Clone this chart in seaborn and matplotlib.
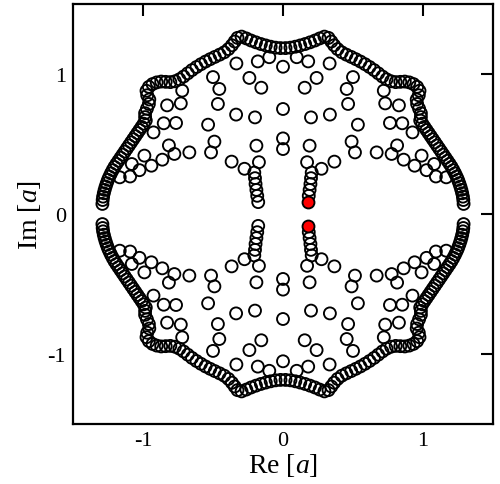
import matplotlib
matplotlib.use("Agg")
import matplotlib.pyplot as plt
import seaborn as sns
import pandas as pd

sns.set_theme(style="white")
plt.rcParams["font.family"] = ["Liberation Serif", "DejaVu Serif"]
plt.rcParams["mathtext.fontset"] = "custom"
plt.rcParams["mathtext.it"] = "Liberation Serif:italic"
plt.rcParams["mathtext.rm"] = "Liberation Serif"
plt.rcParams["axes.unicode_minus"] = False

# ---------------- data (zeros in the complex a-plane) ----------------
# quadrant I (Re>0, Im>0): outer rim then interior points
q1_x = [0.018, 0.053, 0.088, 0.123, 0.158, 0.193, 0.228, 0.262, 0.296,
        0.325, 0.345, 0.365, 0.39, 0.42, 0.453, 0.487, 0.52, 0.553, 0.586, 0.618, 0.65, 0.68,
        0.71, 0.74, 0.772, 0.805, 0.838, 0.87, 0.902, 0.932,
        0.958, 0.975, 0.97, 0.955, 0.958, 0.972, 0.985, 0.985,
        0.98, 0.995, 1.01, 1.025, 1.04, 1.055, 1.07, 1.085, 1.1, 1.115, 1.13, 1.145, 1.16, 1.175,
        1.19, 1.204, 1.217, 1.229, 1.24, 1.25, 1.259, 1.267, 1.274, 1.28, 1.285, 1.288, 1.29,
        0.098, 0.18, 0.333, 0.50, 0.24, 0.155, 0.455, 0.465, 0.335, 0.2, 0.535, 0.72, 0.73,
        0.828, 0.764, 0.852, 0.925, 0.49, 0.514, 0.669, 0.776, 0.815, 0.862, 0.94, 0.99, 1.025,
        1.08, 1.092, 1.166, 0.367, 0.275, 0.172, 0.19, 0.184, 0.19, 0.196, 0.2, 0.205]
q1_y = [1.185, 1.188, 1.195, 1.204, 1.214, 1.226, 1.239, 1.254, 1.267,
        1.258, 1.232, 1.205, 1.178, 1.155, 1.138, 1.122, 1.106, 1.089, 1.07, 1.05, 1.028, 1.005,
        0.982, 0.962, 0.948, 0.942, 0.944, 0.946, 0.94, 0.928,
        0.908, 0.88, 0.848, 0.818, 0.786, 0.752, 0.72, 0.692,
        0.668, 0.645, 0.622, 0.6, 0.578, 0.556, 0.534, 0.512, 0.49, 0.468, 0.446, 0.424, 0.402, 0.38,
        0.358, 0.336, 0.313, 0.29, 0.267, 0.244, 0.22, 0.196, 0.172, 0.148, 0.124, 0.1, 0.072,
        1.12, 1.09, 1.075, 0.978, 0.972, 0.902, 0.893, 0.786, 0.71, 0.69, 0.638, 0.881, 0.79,
        0.776, 0.65, 0.648, 0.583, 0.517, 0.44, 0.44, 0.429, 0.49, 0.388, 0.345, 0.417, 0.313,
        0.357, 0.268, 0.262, 0.374, 0.323, 0.37, 0.488, 0.13, 0.172, 0.214, 0.256, 0.296]

# quadrant II (Re<0, Im>0)
q2_x = [-0.018, -0.053, -0.088, -0.123, -0.158, -0.193, -0.228, -0.262, -0.296,
        -0.325, -0.345, -0.365, -0.39, -0.42, -0.453, -0.487, -0.52, -0.553, -0.586, -0.618, -0.65, -0.68,
        -0.71, -0.74, -0.772, -0.805, -0.838, -0.87, -0.902, -0.932,
        -0.958, -0.975, -0.97, -0.955, -0.958, -0.972, -0.985, -0.985,
        -0.98, -0.995, -1.01, -1.025, -1.04, -1.055, -1.07, -1.085, -1.1, -1.115, -1.13, -1.145, -1.16, -1.175,
        -1.19, -1.204, -1.217, -1.229, -1.24, -1.25, -1.259, -1.267, -1.274, -1.28, -1.285, -1.288, -1.29,
        -0.098, -0.18, -0.333, -0.50, -0.24, -0.155, -0.455, -0.465, -0.335, -0.2, -0.535, -0.72, -0.73,
        -0.828, -0.764, -0.852, -0.925, -0.49, -0.514, -0.669, -0.776, -0.815, -0.862, -0.94, -0.99, -1.025,
        -1.08, -1.092, -1.166, -0.367, -0.275, -0.172, -0.19, -0.184, -0.19, -0.196, -0.2, -0.205, -0.177]
q2_y = [1.185, 1.188, 1.195, 1.204, 1.214, 1.226, 1.239, 1.254, 1.267,
        1.258, 1.232, 1.205, 1.178, 1.155, 1.138, 1.122, 1.106, 1.089, 1.07, 1.05, 1.028, 1.005,
        0.982, 0.962, 0.948, 0.942, 0.944, 0.946, 0.94, 0.928,
        0.908, 0.88, 0.848, 0.818, 0.786, 0.752, 0.72, 0.692,
        0.668, 0.645, 0.622, 0.6, 0.578, 0.556, 0.534, 0.512, 0.49, 0.468, 0.446, 0.424, 0.402, 0.38,
        0.358, 0.336, 0.313, 0.29, 0.267, 0.244, 0.22, 0.196, 0.172, 0.148, 0.124, 0.1, 0.072,
        1.12, 1.09, 1.075, 0.978, 0.972, 0.902, 0.893, 0.786, 0.71, 0.69, 0.638, 0.881, 0.79,
        0.776, 0.65, 0.648, 0.583, 0.517, 0.44, 0.44, 0.429, 0.49, 0.388, 0.345, 0.417, 0.313,
        0.357, 0.268, 0.262, 0.374, 0.323, 0.37, 0.488, 0.13, 0.172, 0.214, 0.256, 0.296, 0.085]

# quadrant III (Re<0, Im<0)
q3_x = [-0.018, -0.053, -0.088, -0.123, -0.158, -0.193, -0.228, -0.262, -0.296,
        -0.325, -0.345, -0.365, -0.39, -0.42, -0.453, -0.487, -0.52, -0.553, -0.586, -0.618, -0.65, -0.68,
        -0.71, -0.74, -0.772, -0.805, -0.838, -0.87, -0.902, -0.932,
        -0.958, -0.975, -0.97, -0.955, -0.958, -0.972, -0.985, -0.985,
        -0.98, -0.995, -1.01, -1.025, -1.04, -1.055, -1.07, -1.085, -1.1, -1.115, -1.13, -1.145, -1.16, -1.175,
        -1.19, -1.204, -1.217, -1.229, -1.24, -1.25, -1.259, -1.267, -1.274, -1.28, -1.285, -1.288, -1.29,
        -0.098, -0.18, -0.333, -0.50, -0.24, -0.155, -0.455, -0.465, -0.335, -0.2, -0.535, -0.72, -0.73,
        -0.828, -0.764, -0.852, -0.925, -0.49, -0.514, -0.669, -0.776, -0.815, -0.862, -0.94, -0.99, -1.025,
        -1.08, -1.092, -1.166, -0.367, -0.275, -0.172, -0.19, -0.184, -0.19, -0.196, -0.2, -0.205, -0.177]
q3_y = [-1.185, -1.188, -1.195, -1.204, -1.214, -1.226, -1.239, -1.254, -1.267,
        -1.258, -1.232, -1.205, -1.178, -1.155, -1.138, -1.122, -1.106, -1.089, -1.07, -1.05, -1.028, -1.005,
        -0.982, -0.962, -0.948, -0.942, -0.944, -0.946, -0.94, -0.928,
        -0.908, -0.88, -0.848, -0.818, -0.786, -0.752, -0.72, -0.692,
        -0.668, -0.645, -0.622, -0.6, -0.578, -0.556, -0.534, -0.512, -0.49, -0.468, -0.446, -0.424, -0.402, -0.38,
        -0.358, -0.336, -0.313, -0.29, -0.267, -0.244, -0.22, -0.196, -0.172, -0.148, -0.124, -0.1, -0.072,
        -1.12, -1.09, -1.075, -0.978, -0.972, -0.902, -0.893, -0.786, -0.71, -0.69, -0.638, -0.881, -0.79,
        -0.776, -0.65, -0.648, -0.583, -0.517, -0.44, -0.44, -0.429, -0.49, -0.388, -0.345, -0.417, -0.313,
        -0.357, -0.268, -0.262, -0.374, -0.323, -0.37, -0.488, -0.13, -0.172, -0.214, -0.256, -0.296, -0.085]

# quadrant IV (Re>0, Im<0)
q4_x = [0.018, 0.053, 0.088, 0.123, 0.158, 0.193, 0.228, 0.262, 0.296,
        0.325, 0.345, 0.365, 0.39, 0.42, 0.453, 0.487, 0.52, 0.553, 0.586, 0.618, 0.65, 0.68,
        0.71, 0.74, 0.772, 0.805, 0.838, 0.87, 0.902, 0.932,
        0.958, 0.975, 0.97, 0.955, 0.958, 0.972, 0.985, 0.985,
        0.98, 0.995, 1.01, 1.025, 1.04, 1.055, 1.07, 1.085, 1.1, 1.115, 1.13, 1.145, 1.16, 1.175,
        1.19, 1.204, 1.217, 1.229, 1.24, 1.25, 1.259, 1.267, 1.274, 1.28, 1.285, 1.288, 1.29,
        0.098, 0.18, 0.333, 0.50, 0.24, 0.155, 0.455, 0.465, 0.335, 0.2, 0.535, 0.72, 0.73,
        0.828, 0.764, 0.852, 0.925, 0.49, 0.514, 0.669, 0.776, 0.815, 0.862, 0.94, 0.99, 1.025,
        1.08, 1.092, 1.166, 0.367, 0.275, 0.172, 0.19, 0.184, 0.19, 0.196, 0.2, 0.205]
q4_y = [-1.185, -1.188, -1.195, -1.204, -1.214, -1.226, -1.239, -1.254, -1.267,
        -1.258, -1.232, -1.205, -1.178, -1.155, -1.138, -1.122, -1.106, -1.089, -1.07, -1.05, -1.028, -1.005,
        -0.982, -0.962, -0.948, -0.942, -0.944, -0.946, -0.94, -0.928,
        -0.908, -0.88, -0.848, -0.818, -0.786, -0.752, -0.72, -0.692,
        -0.668, -0.645, -0.622, -0.6, -0.578, -0.556, -0.534, -0.512, -0.49, -0.468, -0.446, -0.424, -0.402, -0.38,
        -0.358, -0.336, -0.313, -0.29, -0.267, -0.244, -0.22, -0.196, -0.172, -0.148, -0.124, -0.1, -0.072,
        -1.12, -1.09, -1.075, -0.978, -0.972, -0.902, -0.893, -0.786, -0.71, -0.69, -0.638, -0.881, -0.79,
        -0.776, -0.65, -0.648, -0.583, -0.517, -0.44, -0.44, -0.429, -0.49, -0.388, -0.345, -0.417, -0.313,
        -0.357, -0.268, -0.262, -0.374, -0.323, -0.37, -0.488, -0.13, -0.172, -0.214, -0.256, -0.296]

# points on the imaginary axis
axis_x = [0.0, 0.0, 0.0, 0.0, 0.0, 0.0, 0.0, 0.0]
axis_y = [1.052, 0.75, 0.54, 0.464, -0.464, -0.54, -0.75, -1.052]

# highlighted pair (filled red)
red_x = [0.177, 0.177]
red_y = [0.085, -0.085]

tick_vals = [-1, 0, 1]
tick_labels = ["-1", "0", "1"]

# ---------------- plotting ----------------
open_df = pd.DataFrame({
    "re": q1_x + q2_x + q3_x + q4_x + axis_x,
    "im": q1_y + q2_y + q3_y + q4_y + axis_y,
})
red_df = pd.DataFrame({"re": red_x, "im": red_y})

fig = plt.figure(figsize=(5.0, 4.85), dpi=100)
ax = fig.add_axes([0.146, 0.1237, 0.84, 0.866])

sns.scatterplot(data=open_df, x="re", y="im", ax=ax, marker="o", s=74,
                color="none", edgecolor="black", linewidth=1.35, legend=False, zorder=2)
sns.scatterplot(data=red_df, x="re", y="im", ax=ax, marker="o", s=74,
                color="red", edgecolor="black", linewidth=1.35, legend=False, zorder=3)

ax.set_xlim(-1.5, 1.5)
ax.set_ylim(-1.5, 1.5)
ax.set_xticks(tick_vals)
ax.set_yticks(tick_vals)
ax.set_xticklabels(tick_labels)
ax.set_yticklabels(tick_labels)
ax.tick_params(direction="in", length=8.5, width=1.5, top=True, right=True,
               labelsize=16, pad=5, colors="black")
for sp in ax.spines.values():
    sp.set_linewidth(1.6)
    sp.set_color("black")
ax.grid(False)
ax.set_facecolor("white")
ax.set_xlabel("Re [$a$]", fontsize=20, labelpad=1, color="black")
ax.set_ylabel("Im [$a$]", fontsize=20, labelpad=3, color="black")

fig.savefig("out.png", dpi=100, facecolor="white")
